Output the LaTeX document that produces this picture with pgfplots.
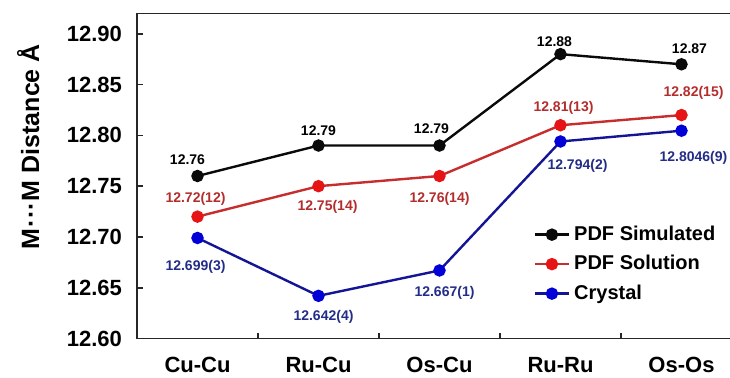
\documentclass[border=0pt]{standalone}
\usepackage{pgfplots}
\usepackage{pgfplotstable}
\pgfplotsset{compat=1.18}
\usepackage{fontspec}
\setmainfont{Liberation Sans}

\definecolor{simline}{RGB}{10,10,10}
\definecolor{solline}{RGB}{200,45,45}
\definecolor{solmark}{RGB}{230,20,20}
\definecolor{sollab}{RGB}{180,45,45}
\definecolor{cryline}{RGB}{20,20,150}
\definecolor{crymark}{RGB}{0,0,215}
\definecolor{crylab}{RGB}{35,45,135}

% x  y  label offsets (pt)  label
\pgfplotstableread{
x y dx dy lab
0 12.76 -5 8 12.76
1 12.79 0 7.5 12.79
2 12.79 -4 8.5 12.79
3 12.88 -3 6 12.88
4 12.87 4 8 12.87
}\simulated
\pgfplotstableread{
x y dx dy lab
0 12.72 -1 9 12.72(12)
1 12.75 4.5 -10.5 12.75(14)
2 12.76 0 -11.5 12.76(14)
3 12.81 1.5 8.5 12.81(13)
4 12.82 6 11 12.82(15)
}\solution
\pgfplotstableread{
x y dx dy lab
0 12.699 -1 -14.5 12.699(3)
1 12.642 2.5 -10.5 12.642(4)
2 12.667 2.5 -11 12.667(1)
3 12.794 8.5 -12 12.794(2)
4 12.8046 6 -13.5 12.8046(9)
}\crystal

\begin{document}
\begin{tikzpicture}
\begin{axis}[
  name=ax,
  scale only axis,
  width=302.5pt, height=162.5pt,
  xmin=-0.5, xmax=4.5,
  ymin=12.6, ymax=12.92,
  axis line style={line width=0.9pt, black!85},
  xtick={0,1,2,3,4},
  xticklabels={Cu-Cu,Ru-Cu,Os-Cu,Ru-Ru,Os-Os},
  minor xtick={0.5,1.5,2.5,3.5},
  major x tick style={draw=none},
  minor tick length=3pt,
  major tick length=3pt,
  tick style={line width=0.8pt, black!85},
  xtick pos=bottom, ytick pos=left,
  tick align=inside,
  ytick={12.60,12.65,...,12.91},
  yticklabel style={/pgf/number format/fixed, /pgf/number format/fixed zerofill, /pgf/number format/precision=2, xshift=-4pt},
  /pgf/number format/assume math mode=true,
  ticklabel style={font=\bfseries\fontsize{11}{13}\selectfont},
  xticklabel style={yshift=-6pt},
  ylabel={M\kern0.6pt···\kern0.6pt M Distance Å},
  ylabel style={font=\bfseries\fontsize{12.5}{14}\selectfont, at={(axis description cs:-0.18,0.59)}, anchor=center},
  legend style={draw=none, fill=none, at={(axis description cs:0.655,0.36)}, anchor=north west,
    font=\bfseries\fontsize{10}{12}\selectfont, row sep=2pt, inner sep=0pt},
  legend cell align=left,
  nodes near coords,
  point meta=explicit symbolic,
  visualization depends on={\thisrow{dx} \as \labdx},
  visualization depends on={\thisrow{dy} \as \labdy},
  every node near coord/.append style={font=\bfseries\fontsize{7}{8}\selectfont, anchor=center,
    xshift=\labdx pt, yshift=\labdy pt},
]
\addplot[simline, line width=1.2pt, mark=*, mark size=2.5pt,
  nodes near coords style={text=black}] table[x=x, y=y, meta=lab] {\simulated};
\addlegendentry{PDF Simulated}
\addplot[solline, line width=1.2pt, mark=*, mark size=2.5pt, mark options={solmark},
  nodes near coords style={text=sollab}] table[x=x, y=y, meta=lab] {\solution};
\addlegendentry{PDF Solution}
\addplot[cryline, line width=1.2pt, mark=*, mark size=2.5pt, mark options={crymark},
  nodes near coords style={text=crylab}] table[x=x, y=y, meta=lab] {\crystal};
\addlegendentry{Crystal}
\end{axis}
\pgfresetboundingbox
\path ([shift={(-68.5pt,-19.25pt)}]ax.south west) rectangle ([shift={(296.5pt,169.25pt)}]ax.south west);
\end{tikzpicture}
\end{document}
